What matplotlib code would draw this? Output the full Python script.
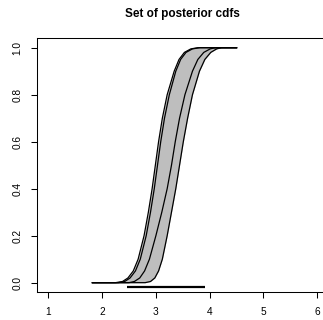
import matplotlib
matplotlib.use("Agg")
import matplotlib.pyplot as plt

plt.rcParams['font.family'] = ['Liberation Sans', 'DejaVu Sans']

title = "Set of posterior cdfs"

# probability levels shared by all curves
probs = [0.0, 0.005, 0.02, 0.05, 0.1, 0.2, 0.3, 0.4, 0.5, 0.6, 0.7, 0.8, 0.9, 0.95, 0.98, 0.995, 1.0]

# x positions (quantiles) of each cdf at those levels
cdf_a = [2.25, 2.38, 2.48, 2.58, 2.67, 2.78, 2.86, 2.93, 2.99, 3.05, 3.12, 3.21, 3.34, 3.43, 3.53, 3.65, 3.78]
cdf_b = [2.30, 2.42, 2.52, 2.62, 2.71, 2.82, 2.90, 2.97, 3.03, 3.09, 3.16, 3.25, 3.37, 3.46, 3.56, 3.68, 3.82]
cdf_c = [2.50, 2.60, 2.70, 2.79, 2.88, 3.00, 3.11, 3.21, 3.29, 3.36, 3.44, 3.54, 3.68, 3.78, 3.89, 4.01, 4.10]
cdf_d = [2.80, 2.90, 2.98, 3.05, 3.12, 3.21, 3.29, 3.37, 3.44, 3.51, 3.59, 3.68, 3.81, 3.91, 4.02, 4.13, 4.22]
curves = [cdf_a, cdf_b, cdf_c, cdf_d]

x_start = 1.82
x_end = 4.50

interval = [2.46, 3.91]
interval_y = -0.017

x_ticks = [1, 2, 3, 4, 5, 6]
y_ticks = [0.0, 0.2, 0.4, 0.6, 0.8, 1.0]
y_ticklabels = ["0.0", "0.2", "0.4", "0.6", "0.8", "1.0"]

fig = plt.figure(figsize=(3.23, 3.20), dpi=100)
ax = fig.add_axes([36.7 / 323, (320 - 292.3) / 320, (328 - 36.7) / 323, (292.3 - 37.7) / 320])

left_x = [min(v) for v in zip(*curves)]
right_x = [max(v) for v in zip(*curves)]
ax.fill_betweenx(probs, left_x, right_x, color="#BEBEBE", lw=0)

for c in curves:
    xs = [x_start] + c + [x_end]
    ys = [probs[0]] + probs + [probs[-1]]
    ax.plot(xs, ys, color="black", lw=0.9, solid_joinstyle="round")

ax.plot(interval, [interval_y, interval_y], color="black", lw=1.6, solid_capstyle="butt")

ax.set_xlim(0.784, 6.2)
ax.set_ylim(-0.041, 1.0426)
ax.set_xticks(x_ticks)
ax.set_xticklabels([str(t) for t in x_ticks])
ax.set_yticks(y_ticks)
ax.set_yticklabels(y_ticklabels, rotation=90, va="center")
ax.tick_params(direction="out", length=4.3, width=0.75, labelsize=7.3, pad=6)
for s in ax.spines.values():
    s.set_linewidth(0.75)

fig.text(182.4 / 323, 1 - 14 / 320, title, ha="center", va="center", fontsize=8.5, fontweight="bold")

fig.savefig("out.png", dpi=100)
